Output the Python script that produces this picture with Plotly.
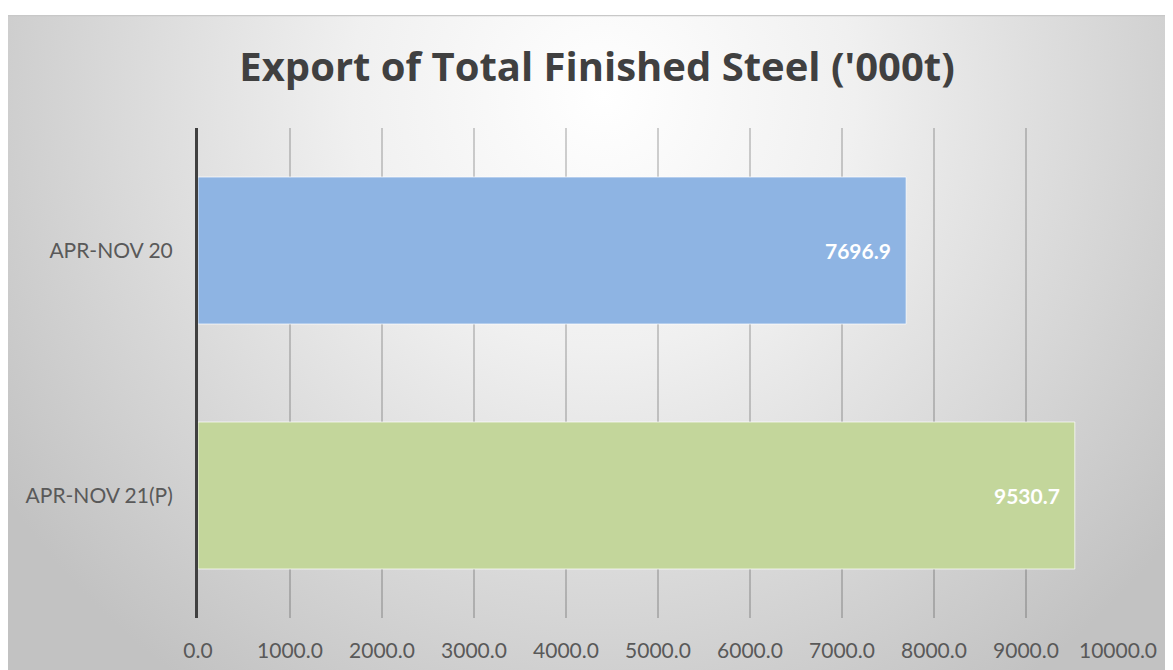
import base64
import plotly.graph_objects as go

categories = ["APR-NOV 20", "APR-NOV 21(P)"]
values = [7696.9, 9530.7]
bar_colors = ["#8eb4e3", "#c3d69b"]
tick_vals = [0, 1000, 2000, 3000, 4000, 5000, 6000, 7000, 8000, 9000, 10000]
tick_text = ["0.0", "1000.0", "2000.0", "3000.0", "4000.0", "5000.0",
             "6000.0", "7000.0", "8000.0", "9000.0", "10000.0"]
title_text = "Export of Total Finished Steel ('000t)"

W, H = 1173, 670
# page is offset by the 8px body margin
L, R, T, B = 190, 63, 120, 60
pw, ph = W - L - R, H - T - B
bg_top = 7

svg = (
    '<svg xmlns="http://www.w3.org/2000/svg" width="1173" height="663" viewBox="0 0 1173 663" preserveAspectRatio="none">'
    '<defs><radialGradient id="g" gradientUnits="userSpaceOnUse" cx="595" cy="80" r="720">'
    '<stop offset="0" stop-color="#ffffff"/><stop offset="0.35" stop-color="#f0f0f0"/>'
    '<stop offset="1" stop-color="#c2c2c2"/></radialGradient></defs>'
    '<rect x="0" y="0" width="1173" height="663" fill="url(#g)"/>'
    '<line x1="0" y1="0.5" x2="1173" y2="0.5" stroke="#c8c8c8" stroke-width="1.5"/>'
    '</svg>'
)
src = "data:image/svg+xml;base64," + base64.b64encode(svg.encode()).decode()

fig = go.Figure()
fig.add_trace(go.Bar(
    y=categories, x=values, orientation="h",
    marker=dict(color=bar_colors, line=dict(color="rgba(255,255,255,0.7)", width=1)),
    hoverinfo="x+y",
))

for c, v in zip(categories, values):
    fig.add_annotation(x=v, y=c, xref="x", yref="y", text=f"<b>{v:.1f}</b>",
                       showarrow=False, xanchor="right", xshift=-13,
                       font=dict(family="Lato", size=21, color="white"))

fig.add_layout_image(dict(
    source=src, xref="paper", yref="paper",
    x=(0 - L) / pw, y=1 + (T - bg_top) / ph,
    sizex=W / pw, sizey=(H - bg_top) / ph,
    sizing="stretch", xanchor="left", yanchor="top", layer="below",
))

fig.update_layout(
    width=W, height=H,
    margin=dict(l=L, r=R, t=T, b=B, autoexpand=False),
    paper_bgcolor="white", plot_bgcolor="rgba(0,0,0,0)",
    bargap=0.4,
    showlegend=False,
    title=dict(text="<b>" + title_text + "</b>", xref="container",
               x=(597 - 8) / W, xanchor="center",
               y=1 - 59 / H, yanchor="middle",
               font=dict(family="Open Sans", size=40, color="#404040")),
    xaxis=dict(range=[0, 10000], tickvals=tick_vals, ticktext=tick_text,
               showgrid=True, gridcolor="rgba(0,0,0,0.18)", gridwidth=1.5,
               zeroline=False, showline=False,
               tickfont=dict(family="Lato", size=21, color="#595959"),
               ticklabelstandoff=18),
    yaxis=dict(autorange="reversed", showline=True, linecolor="#404040", linewidth=3,
               showgrid=False, zeroline=False,
               tickfont=dict(family="Lato", size=21, color="#595959"),
               ticklabelstandoff=18),
)

fig.write_html("out.html")
